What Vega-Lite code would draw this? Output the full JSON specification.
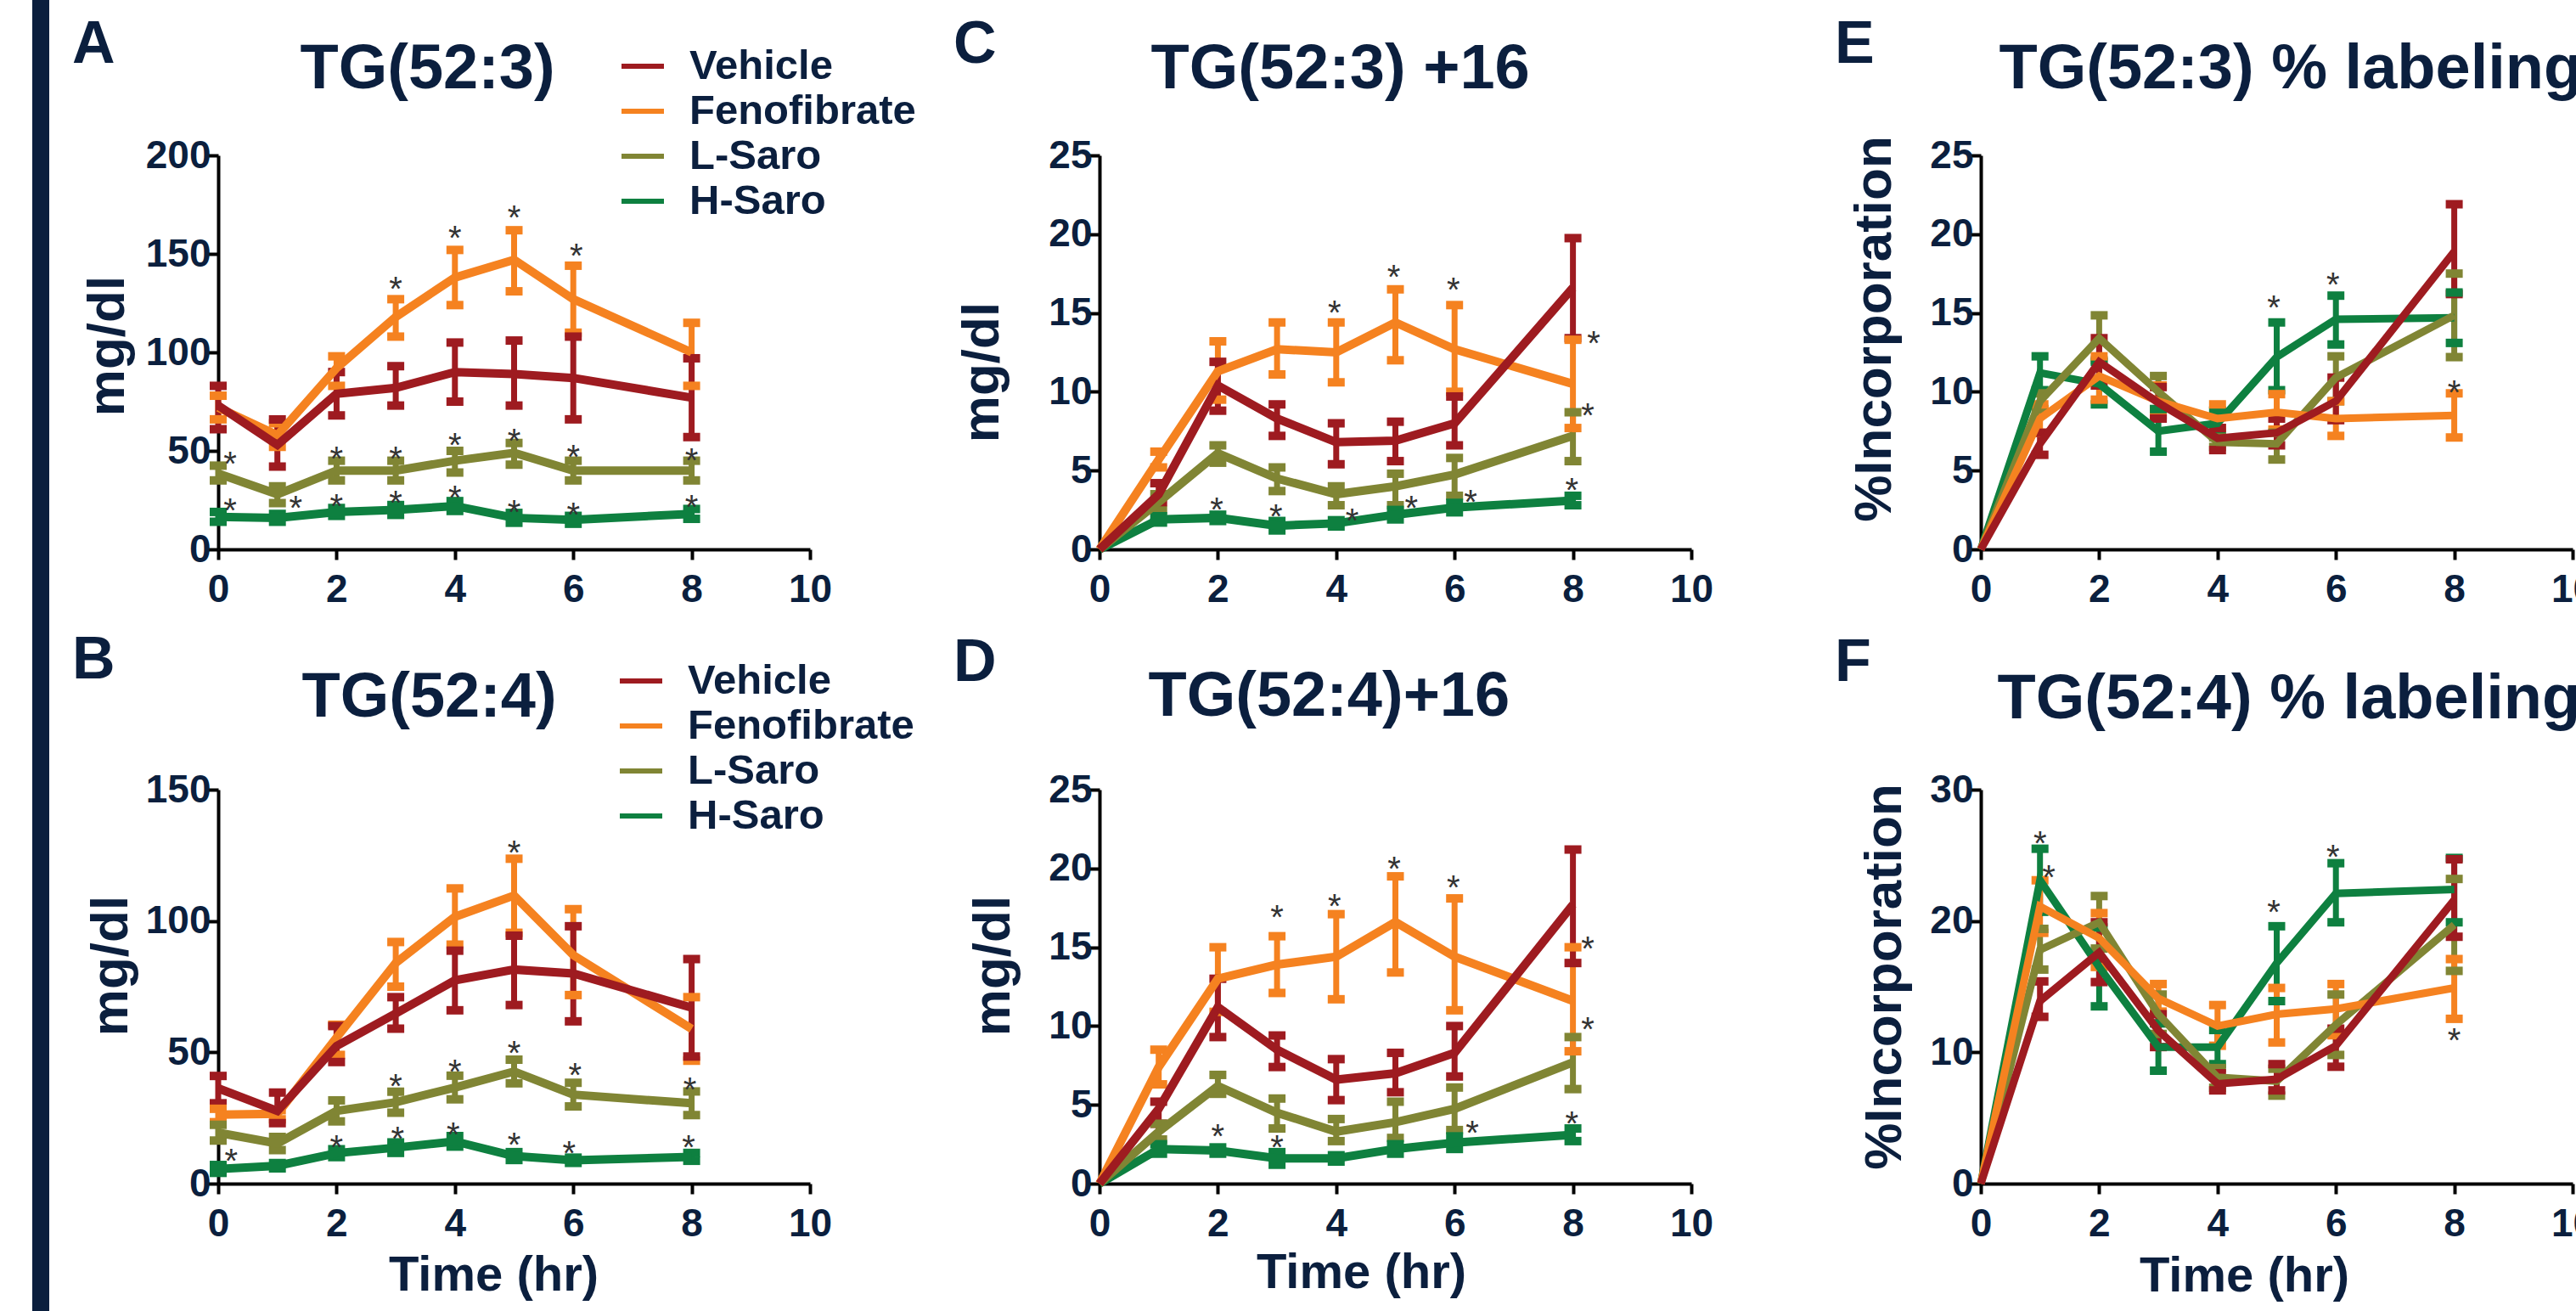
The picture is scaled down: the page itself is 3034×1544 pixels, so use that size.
{
"$schema":"https://vega.github.io/schema/vega-lite/v6.json",
"background":"white",
"padding":{"left":38,"top":0,"right":0,"bottom":0},
"config":{
"view":{"stroke":null},
"font":"Liberation Sans",
"title":{"font":"Liberation Sans","fontWeight":"bold","color":"#0b1f3e","anchor":"start","frame":"group","fontSize":70},
"axis":{"domainColor":"#000000","domainWidth":4,"tickColor":"#000000","tickWidth":4,"tickSize":12,"labelFont":"Liberation Sans","labelFontWeight":"bold","labelFontSize":46,"labelColor":"#0b1f3e","titleFont":"Liberation Sans","titleFontWeight":"bold","titleColor":"#0b1f3e","grid":false,"labelOverlap":false,"labelFlush":false,"titleBaseline":"alphabetic","titleAlign":"center"},
"axisX":{"labelBaseline":"alphabetic","labelPadding":49,"titleFontSize":58},
"axisY":{"labelPadding":-3,"titleFontSize":62},
"tick":{"opacity":1},
"rule":{"opacity":1},
"legend":{"title":null,"symbolType":"stroke","symbolSize":2500,"symbolStrokeWidth":6,"symbolOpacity":1,"labelFont":"Liberation Sans","labelFontSize":49,"labelFontWeight":"bold","labelColor":"#0b1f3e","labelOffset":27,"rowPadding":0,"padding":0,"labelLimit":0}
},
"datasets":{
"main":[
{"p":"A","g":"H-Saro","t":0,"m":16.5,"lo":14,"hi":19},{"p":"A","g":"H-Saro","t":1,"m":16,"lo":14,"hi":18},{"p":"A","g":"H-Saro","t":2,"m":19,"lo":17,"hi":21},{"p":"A","g":"H-Saro","t":3,"m":20,"lo":17.5,"hi":22.5},{"p":"A","g":"H-Saro","t":4,"m":22,"lo":19.5,"hi":24.5},{"p":"A","g":"H-Saro","t":5,"m":16,"lo":13.5,"hi":18.5},{"p":"A","g":"H-Saro","t":6,"m":15,"lo":13,"hi":17},{"p":"A","g":"H-Saro","t":8,"m":18,"lo":15.5,"hi":20.5},
{"p":"A","g":"L-Saro","t":0,"m":38.5,"lo":35,"hi":42.5},{"p":"A","g":"L-Saro","t":1,"m":28,"lo":23.5,"hi":32},{"p":"A","g":"L-Saro","t":2,"m":40,"lo":35,"hi":45},{"p":"A","g":"L-Saro","t":3,"m":40,"lo":35,"hi":45},{"p":"A","g":"L-Saro","t":4,"m":45,"lo":39,"hi":50},{"p":"A","g":"L-Saro","t":5,"m":49,"lo":43,"hi":54},{"p":"A","g":"L-Saro","t":6,"m":40,"lo":35,"hi":45},{"p":"A","g":"L-Saro","t":8,"m":40,"lo":35,"hi":45},
{"p":"A","g":"Fenofibrate","t":0,"m":72,"lo":66,"hi":78},{"p":"A","g":"Fenofibrate","t":1,"m":58,"lo":52,"hi":64},{"p":"A","g":"Fenofibrate","t":2,"m":92,"lo":83,"hi":98},{"p":"A","g":"Fenofibrate","t":3,"m":118,"lo":108,"hi":127},{"p":"A","g":"Fenofibrate","t":4,"m":138,"lo":124,"hi":152},{"p":"A","g":"Fenofibrate","t":5,"m":147,"lo":131,"hi":162},{"p":"A","g":"Fenofibrate","t":6,"m":127,"lo":110,"hi":144},{"p":"A","g":"Fenofibrate","t":8,"m":100,"lo":83,"hi":115},
{"p":"A","g":"Vehicle","t":0,"m":73,"lo":61,"hi":83},{"p":"A","g":"Vehicle","t":1,"m":53,"lo":42,"hi":66},{"p":"A","g":"Vehicle","t":2,"m":79,"lo":68,"hi":90},{"p":"A","g":"Vehicle","t":3,"m":82,"lo":73,"hi":93},{"p":"A","g":"Vehicle","t":4,"m":90,"lo":75,"hi":105},{"p":"A","g":"Vehicle","t":5,"m":89,"lo":73,"hi":106},{"p":"A","g":"Vehicle","t":6,"m":87,"lo":66,"hi":108},{"p":"A","g":"Vehicle","t":8,"m":77,"lo":57,"hi":97},
{"p":"B","g":"H-Saro","t":0,"m":5.6,"lo":4.1,"hi":7.1},{"p":"B","g":"H-Saro","t":1,"m":6.8,"lo":5.8,"hi":7.8},{"p":"B","g":"H-Saro","t":2,"m":11.6,"lo":10.1,"hi":13.1},{"p":"B","g":"H-Saro","t":3,"m":13.7,"lo":11.7,"hi":15.7},{"p":"B","g":"H-Saro","t":4,"m":16.1,"lo":14.1,"hi":18.1},{"p":"B","g":"H-Saro","t":5,"m":10.5,"lo":9,"hi":12},{"p":"B","g":"H-Saro","t":6,"m":8.9,"lo":7.9,"hi":9.9},{"p":"B","g":"H-Saro","t":8,"m":10.2,"lo":8.7,"hi":11.7},
{"p":"B","g":"L-Saro","t":0,"m":19.4,"lo":16.4,"hi":22.4},{"p":"B","g":"L-Saro","t":1,"m":15.3,"lo":12.8,"hi":17.8},{"p":"B","g":"L-Saro","t":2,"m":27.7,"lo":23.7,"hi":31.7},{"p":"B","g":"L-Saro","t":3,"m":31,"lo":27,"hi":35},{"p":"B","g":"L-Saro","t":4,"m":36.6,"lo":32.1,"hi":41.1},{"p":"B","g":"L-Saro","t":5,"m":42.7,"lo":38.2,"hi":47.2},{"p":"B","g":"L-Saro","t":6,"m":33.9,"lo":29.4,"hi":38.4},{"p":"B","g":"L-Saro","t":8,"m":30.6,"lo":26.1,"hi":35.1},
{"p":"B","g":"Fenofibrate","t":0,"m":26.3,"lo":23.4,"hi":28.5},{"p":"B","g":"Fenofibrate","t":1,"m":26.6,"lo":24.5,"hi":28},{"p":"B","g":"Fenofibrate","t":2,"m":55.6,"lo":49,"hi":60.5},{"p":"B","g":"Fenofibrate","t":3,"m":84,"lo":75,"hi":92},{"p":"B","g":"Fenofibrate","t":4,"m":101.6,"lo":91,"hi":112.4},{"p":"B","g":"Fenofibrate","t":5,"m":109.7,"lo":95.5,"hi":123.7},{"p":"B","g":"Fenofibrate","t":6,"m":87,"lo":71.8,"hi":104.5},{"p":"B","g":"Fenofibrate","t":8,"m":58.9,"lo":46.8,"hi":71},
{"p":"B","g":"Vehicle","t":0,"m":36.3,"lo":30.6,"hi":41},{"p":"B","g":"Vehicle","t":1,"m":27.7,"lo":23,"hi":34.7},{"p":"B","g":"Vehicle","t":2,"m":52.4,"lo":46.3,"hi":60},{"p":"B","g":"Vehicle","t":3,"m":64.8,"lo":59,"hi":71},{"p":"B","g":"Vehicle","t":4,"m":77.4,"lo":66,"hi":88.7},{"p":"B","g":"Vehicle","t":5,"m":81.5,"lo":68,"hi":94.4},{"p":"B","g":"Vehicle","t":6,"m":80,"lo":61.8,"hi":98},{"p":"B","g":"Vehicle","t":8,"m":67,"lo":48.4,"hi":85.5},
{"p":"C","g":"H-Saro","t":0,"m":0,"lo":null,"hi":null},{"p":"C","g":"H-Saro","t":1,"m":1.9,"lo":1.7,"hi":2.1},{"p":"C","g":"H-Saro","t":2,"m":2.0,"lo":1.8,"hi":2.2},{"p":"C","g":"H-Saro","t":3,"m":1.5,"lo":1.2,"hi":1.8},{"p":"C","g":"H-Saro","t":4,"m":1.65,"lo":1.45,"hi":1.85},{"p":"C","g":"H-Saro","t":5,"m":2.2,"lo":1.9,"hi":2.5},{"p":"C","g":"H-Saro","t":6,"m":2.65,"lo":2.35,"hi":2.95},{"p":"C","g":"H-Saro","t":8,"m":3.1,"lo":2.8,"hi":3.4},
{"p":"C","g":"L-Saro","t":0,"m":0,"lo":null,"hi":null},{"p":"C","g":"L-Saro","t":1,"m":3.0,"lo":2.5,"hi":3.5},{"p":"C","g":"L-Saro","t":2,"m":6.1,"lo":5.5,"hi":6.6},{"p":"C","g":"L-Saro","t":3,"m":4.5,"lo":3.7,"hi":5.2},{"p":"C","g":"L-Saro","t":4,"m":3.5,"lo":2.8,"hi":4.0},{"p":"C","g":"L-Saro","t":5,"m":4.0,"lo":2.8,"hi":4.8},{"p":"C","g":"L-Saro","t":6,"m":4.75,"lo":3.4,"hi":5.8},{"p":"C","g":"L-Saro","t":8,"m":7.2,"lo":5.6,"hi":8.7},
{"p":"C","g":"Fenofibrate","t":0,"m":0,"lo":null,"hi":null},{"p":"C","g":"Fenofibrate","t":1,"m":5.7,"lo":5.2,"hi":6.2},{"p":"C","g":"Fenofibrate","t":2,"m":11.3,"lo":9.5,"hi":13.2},{"p":"C","g":"Fenofibrate","t":3,"m":12.7,"lo":11.1,"hi":14.4},{"p":"C","g":"Fenofibrate","t":4,"m":12.5,"lo":10.6,"hi":14.4},{"p":"C","g":"Fenofibrate","t":5,"m":14.4,"lo":12.0,"hi":16.5},{"p":"C","g":"Fenofibrate","t":6,"m":12.7,"lo":10.0,"hi":15.5},{"p":"C","g":"Fenofibrate","t":8,"m":10.5,"lo":7.7,"hi":13.3},
{"p":"C","g":"Vehicle","t":0,"m":0,"lo":null,"hi":null},{"p":"C","g":"Vehicle","t":1,"m":3.5,"lo":3.0,"hi":4.2},{"p":"C","g":"Vehicle","t":2,"m":10.4,"lo":8.8,"hi":11.9},{"p":"C","g":"Vehicle","t":3,"m":8.3,"lo":7.2,"hi":9.2},{"p":"C","g":"Vehicle","t":4,"m":6.8,"lo":5.4,"hi":8.0},{"p":"C","g":"Vehicle","t":5,"m":6.9,"lo":5.6,"hi":8.1},{"p":"C","g":"Vehicle","t":6,"m":8.0,"lo":6.6,"hi":9.7},{"p":"C","g":"Vehicle","t":8,"m":16.6,"lo":13.4,"hi":19.75},
{"p":"D","g":"H-Saro","t":0,"m":0,"lo":null,"hi":null},{"p":"D","g":"H-Saro","t":1,"m":2.2,"lo":1.9,"hi":2.5},{"p":"D","g":"H-Saro","t":2,"m":2.1,"lo":1.9,"hi":2.3},{"p":"D","g":"H-Saro","t":3,"m":1.6,"lo":1.2,"hi":2.0},{"p":"D","g":"H-Saro","t":4,"m":1.6,"lo":1.4,"hi":1.8},{"p":"D","g":"H-Saro","t":5,"m":2.2,"lo":1.9,"hi":2.5},{"p":"D","g":"H-Saro","t":6,"m":2.6,"lo":2.2,"hi":3.0},{"p":"D","g":"H-Saro","t":8,"m":3.1,"lo":2.7,"hi":3.5},
{"p":"D","g":"L-Saro","t":0,"m":0,"lo":null,"hi":null},{"p":"D","g":"L-Saro","t":1,"m":3.3,"lo":2.8,"hi":3.8},{"p":"D","g":"L-Saro","t":2,"m":6.2,"lo":5.7,"hi":6.9},{"p":"D","g":"L-Saro","t":3,"m":4.5,"lo":3.5,"hi":5.4},{"p":"D","g":"L-Saro","t":4,"m":3.3,"lo":2.7,"hi":4.1},{"p":"D","g":"L-Saro","t":5,"m":3.9,"lo":2.9,"hi":5.2},{"p":"D","g":"L-Saro","t":6,"m":4.75,"lo":3.4,"hi":6.1},{"p":"D","g":"L-Saro","t":8,"m":7.7,"lo":6.0,"hi":9.3},
{"p":"D","g":"Fenofibrate","t":0,"m":0,"lo":null,"hi":null},{"p":"D","g":"Fenofibrate","t":1,"m":7.4,"lo":6.3,"hi":8.5},{"p":"D","g":"Fenofibrate","t":2,"m":13.0,"lo":10.9,"hi":15.0},{"p":"D","g":"Fenofibrate","t":3,"m":13.9,"lo":12.1,"hi":15.7},{"p":"D","g":"Fenofibrate","t":4,"m":14.4,"lo":11.7,"hi":17.1},{"p":"D","g":"Fenofibrate","t":5,"m":16.6,"lo":13.4,"hi":19.5},{"p":"D","g":"Fenofibrate","t":6,"m":14.4,"lo":11.0,"hi":18.1},{"p":"D","g":"Fenofibrate","t":8,"m":11.6,"lo":8.4,"hi":15.0},
{"p":"D","g":"Vehicle","t":0,"m":0,"lo":null,"hi":null},{"p":"D","g":"Vehicle","t":1,"m":4.75,"lo":3.8,"hi":5.2},{"p":"D","g":"Vehicle","t":2,"m":11.2,"lo":9.3,"hi":13.0},{"p":"D","g":"Vehicle","t":3,"m":8.5,"lo":7.4,"hi":9.4},{"p":"D","g":"Vehicle","t":4,"m":6.6,"lo":5.3,"hi":7.9},{"p":"D","g":"Vehicle","t":5,"m":7.0,"lo":5.8,"hi":8.3},{"p":"D","g":"Vehicle","t":6,"m":8.3,"lo":6.8,"hi":10.0},{"p":"D","g":"Vehicle","t":8,"m":17.7,"lo":14.0,"hi":21.2},
{"p":"E","g":"H-Saro","t":0,"m":0,"lo":null,"hi":null},{"p":"E","g":"H-Saro","t":1,"m":11.2,"lo":10.1,"hi":12.25},{"p":"E","g":"H-Saro","t":2,"m":10.5,"lo":9.2,"hi":11.9},{"p":"E","g":"H-Saro","t":3,"m":7.5,"lo":6.2,"hi":8.9},{"p":"E","g":"H-Saro","t":4,"m":8.0,"lo":7.4,"hi":8.8},{"p":"E","g":"H-Saro","t":5,"m":12.2,"lo":10.1,"hi":14.4},{"p":"E","g":"H-Saro","t":6,"m":14.6,"lo":13.0,"hi":16.1},{"p":"E","g":"H-Saro","t":8,"m":14.7,"lo":13.1,"hi":16.3},
{"p":"E","g":"L-Saro","t":0,"m":0,"lo":null,"hi":null},{"p":"E","g":"L-Saro","t":1,"m":9.4,"lo":8.9,"hi":9.9},{"p":"E","g":"L-Saro","t":2,"m":13.4,"lo":12.0,"hi":14.85},{"p":"E","g":"L-Saro","t":3,"m":10.0,"lo":8.9,"hi":11.0},{"p":"E","g":"L-Saro","t":4,"m":6.8,"lo":6.5,"hi":7.1},{"p":"E","g":"L-Saro","t":5,"m":6.7,"lo":5.7,"hi":7.4},{"p":"E","g":"L-Saro","t":6,"m":10.9,"lo":9.4,"hi":12.25},{"p":"E","g":"L-Saro","t":8,"m":14.85,"lo":12.2,"hi":17.5},
{"p":"E","g":"Fenofibrate","t":0,"m":0,"lo":null,"hi":null},{"p":"E","g":"Fenofibrate","t":1,"m":8.3,"lo":7.4,"hi":9.2},{"p":"E","g":"Fenofibrate","t":2,"m":11.0,"lo":9.5,"hi":12.25},{"p":"E","g":"Fenofibrate","t":3,"m":9.4,"lo":8.5,"hi":10.4},{"p":"E","g":"Fenofibrate","t":4,"m":8.3,"lo":7.7,"hi":9.2},{"p":"E","g":"Fenofibrate","t":5,"m":8.7,"lo":7.6,"hi":9.85},{"p":"E","g":"Fenofibrate","t":6,"m":8.3,"lo":7.2,"hi":9.4},{"p":"E","g":"Fenofibrate","t":8,"m":8.5,"lo":7.1,"hi":9.9},
{"p":"E","g":"Vehicle","t":0,"m":0,"lo":null,"hi":null},{"p":"E","g":"Vehicle","t":1,"m":6.7,"lo":6.0,"hi":7.4},{"p":"E","g":"Vehicle","t":2,"m":11.9,"lo":10.4,"hi":13.4},{"p":"E","g":"Vehicle","t":3,"m":9.3,"lo":8.3,"hi":10.3},{"p":"E","g":"Vehicle","t":4,"m":7.05,"lo":6.3,"hi":7.7},{"p":"E","g":"Vehicle","t":5,"m":7.4,"lo":6.6,"hi":8.3},{"p":"E","g":"Vehicle","t":6,"m":9.4,"lo":8.2,"hi":10.9},{"p":"E","g":"Vehicle","t":8,"m":18.9,"lo":16.2,"hi":21.9},
{"p":"F","g":"H-Saro","t":0,"m":0,"lo":null,"hi":null},{"p":"F","g":"H-Saro","t":1,"m":23.1,"lo":20.7,"hi":25.5},{"p":"F","g":"H-Saro","t":2,"m":16.5,"lo":13.5,"hi":19.5},{"p":"F","g":"H-Saro","t":3,"m":10.4,"lo":8.6,"hi":12.2},{"p":"F","g":"H-Saro","t":4,"m":10.4,"lo":9.1,"hi":11.7},{"p":"F","g":"H-Saro","t":5,"m":16.8,"lo":13.9,"hi":19.6},{"p":"F","g":"H-Saro","t":6,"m":22.1,"lo":19.9,"hi":24.4},{"p":"F","g":"H-Saro","t":8,"m":22.4,"lo":19.9,"hi":24.8},
{"p":"F","g":"L-Saro","t":0,"m":0,"lo":null,"hi":null},{"p":"F","g":"L-Saro","t":1,"m":17.8,"lo":16.3,"hi":19.4},{"p":"F","g":"L-Saro","t":2,"m":19.9,"lo":17.9,"hi":21.9},{"p":"F","g":"L-Saro","t":3,"m":12.9,"lo":11.4,"hi":14.4},{"p":"F","g":"L-Saro","t":4,"m":8.1,"lo":7.3,"hi":8.8},{"p":"F","g":"L-Saro","t":5,"m":7.8,"lo":6.7,"hi":8.75},{"p":"F","g":"L-Saro","t":6,"m":12.1,"lo":9.8,"hi":14.4},{"p":"F","g":"L-Saro","t":8,"m":19.7,"lo":16.2,"hi":23.2},
{"p":"F","g":"Fenofibrate","t":0,"m":0,"lo":null,"hi":null},{"p":"F","g":"Fenofibrate","t":1,"m":21.1,"lo":19.1,"hi":23.1},{"p":"F","g":"Fenofibrate","t":2,"m":18.7,"lo":16.5,"hi":20.6},{"p":"F","g":"Fenofibrate","t":3,"m":14.1,"lo":13.1,"hi":15.2},{"p":"F","g":"Fenofibrate","t":4,"m":12.0,"lo":10.5,"hi":13.6},{"p":"F","g":"Fenofibrate","t":5,"m":12.9,"lo":10.75,"hi":14.9},{"p":"F","g":"Fenofibrate","t":6,"m":13.3,"lo":11.3,"hi":15.2},{"p":"F","g":"Fenofibrate","t":8,"m":14.9,"lo":12.55,"hi":17.1},
{"p":"F","g":"Vehicle","t":0,"m":0,"lo":null,"hi":null},{"p":"F","g":"Vehicle","t":1,"m":13.9,"lo":12.7,"hi":15.4},{"p":"F","g":"Vehicle","t":2,"m":17.6,"lo":15.35,"hi":19.9},{"p":"F","g":"Vehicle","t":3,"m":11.65,"lo":10.4,"hi":12.9},{"p":"F","g":"Vehicle","t":4,"m":7.6,"lo":7.1,"hi":8.4},{"p":"F","g":"Vehicle","t":5,"m":7.95,"lo":7.1,"hi":9.1},{"p":"F","g":"Vehicle","t":6,"m":10.5,"lo":8.9,"hi":11.8},{"p":"F","g":"Vehicle","t":8,"m":21.6,"lo":18.8,"hi":24.7}
],
"stars":[
{"p":"A","t":0.2,"y":47.4},{"p":"A","t":1.31,"y":25},{"p":"A","t":0.2,"y":23.7},{"p":"A","t":2,"y":50},{"p":"A","t":2,"y":25.7},{"p":"A","t":3,"y":49.8},{"p":"A","t":3,"y":27.7},{"p":"A","t":3,"y":136},{"p":"A","t":4,"y":57},{"p":"A","t":4,"y":30},{"p":"A","t":4,"y":162},{"p":"A","t":5,"y":59},{"p":"A","t":5,"y":22.7},{"p":"A","t":5,"y":172.5},{"p":"A","t":6,"y":51},{"p":"A","t":6,"y":21.7},{"p":"A","t":6.05,"y":153},{"p":"A","t":8,"y":49},{"p":"A","t":8,"y":25.3},
{"p":"B","t":5,"y":129},{"p":"B","t":3,"y":40},{"p":"B","t":4,"y":45.5},{"p":"B","t":5,"y":52.7},{"p":"B","t":6.03,"y":44.4},{"p":"B","t":7.97,"y":38.7},{"p":"B","t":0.22,"y":11.6},{"p":"B","t":2,"y":16.9},{"p":"B","t":3.03,"y":20.2},{"p":"B","t":3.97,"y":21.8},{"p":"B","t":5,"y":17.9},{"p":"B","t":5.93,"y":14.5},{"p":"B","t":7.95,"y":16.9},
{"p":"C","t":3.97,"y":15.5},{"p":"C","t":4.97,"y":17.8},{"p":"C","t":5.98,"y":16.95},{"p":"C","t":8.35,"y":13.6},{"p":"C","t":8.25,"y":9.0},{"p":"C","t":1.98,"y":3.0},{"p":"C","t":2.98,"y":2.6},{"p":"C","t":4.27,"y":2.3},{"p":"C","t":5.27,"y":3.1},{"p":"C","t":6.27,"y":3.5},{"p":"C","t":7.98,"y":4.25},
{"p":"D","t":3,"y":17.4},{"p":"D","t":3.97,"y":18.1},{"p":"D","t":4.98,"y":20.5},{"p":"D","t":5.98,"y":19.3},{"p":"D","t":8.25,"y":15.4},{"p":"D","t":8.25,"y":10.3},{"p":"D","t":2,"y":3.5},{"p":"D","t":3,"y":2.8},{"p":"D","t":6.3,"y":3.7},{"p":"D","t":7.98,"y":4.3},
{"p":"E","t":4.95,"y":15.85},{"p":"E","t":5.95,"y":17.3},{"p":"E","t":8.0,"y":10.45},
{"p":"F","t":1.0,"y":26.5},{"p":"F","t":1.15,"y":23.9},{"p":"F","t":4.95,"y":21.3},{"p":"F","t":5.95,"y":25.5},{"p":"F","t":8.0,"y":11.5}
]
},
"bounds":"full",
"spacing":27,
"resolve":{"scale":{"color":"independent","x":"independent","y":"independent"},"legend":{"color":"independent"},"axis":{"x":"independent","y":"independent"}},
"hconcat":[
{"width":20,"height":1361,"data":{"values":[{"k":1}]},"mark":{"type":"rect","color":"#0b1f3e"},"encoding":{"y":{"datum":0,"type":"quantitative","scale":{"domain":[0,1],"range":[1361,-183]},"axis":null},"y2":{"datum":1}}},
{"columns":3,"bounds":"flush","spacing":{"row":283,"column":341},
"resolve":{"scale":{"color":"independent","x":"independent","y":"independent"},"legend":{"color":"independent"},"axis":{"x":"independent","y":"independent"}},
"concat":[
{"width":697,"height":464,
"title":{"text":"A","offset":-45,"dx":-172},
"encoding":{"x":{"field":"t","type":"quantitative","scale":{"domain":[0,10],"nice":false},"axis":{"orient":"bottom","values":[0,2,4,6,8,10],"title":null}}},
"layer":[
{"data":{"name":"main"},"transform":[{"filter":"datum.p==='A'"}],
"encoding":{"color":{"field":"g","type":"nominal","scale":{"domain":["Vehicle","Fenofibrate","L-Saro","H-Saro"],"range":["#9e1b20","#f58220","#808534","#0e8040"]},"legend":{"orient":"none","legendX":472,"legendY":-133}}},
"layer":[
{"mark":{"type":"rule","strokeWidth":7},"encoding":{"y":{"field":"lo","type":"quantitative","title":"mg/dl","scale":{"domain":[0,200],"nice":false},"axis":{"values":[0,50,100,150,200],"titleX":-112,"titleY":224}},"y2":{"field":"hi"}}},
{"mark":{"type":"tick","orient":"horizontal","size":20,"thickness":10},"encoding":{"y":{"field":"lo","type":"quantitative","title":"mg/dl"}}},
{"mark":{"type":"tick","orient":"horizontal","size":20,"thickness":10},"encoding":{"y":{"field":"hi","type":"quantitative","title":"mg/dl"}}},
{"mark":{"type":"line","strokeWidth":10},"encoding":{"y":{"field":"m","type":"quantitative","title":"mg/dl"}}}
]},
{"data":{"name":"stars"},"transform":[{"filter":"datum.p==='A'"}],"mark":{"type":"text","text":"*","fontSize":40,"color":"#333333","baseline":"alphabetic","dy":23},
"encoding":{"x":{"field":"t","type":"quantitative","axis":{"orient":"top","domain":false,"ticks":false,"labels":false,"title":"TG(52:3)","titleFontSize":74,"titleAlign":"left","titleBaseline":"alphabetic","titleX":96,"titleY":-80}},"y":{"field":"y","type":"quantitative","title":"mg/dl"}}}
]},
{"width":697,"height":464,
"title":{"text":"C","offset":-45,"dx":-172},
"encoding":{"x":{"field":"t","type":"quantitative","scale":{"domain":[0,10],"nice":false},"axis":{"orient":"bottom","values":[0,2,4,6,8,10],"title":null}}},
"layer":[
{"data":{"name":"main"},"transform":[{"filter":"datum.p==='C'"}],
"encoding":{"color":{"field":"g","type":"nominal","scale":{"domain":["Vehicle","Fenofibrate","L-Saro","H-Saro"],"range":["#9e1b20","#f58220","#808534","#0e8040"]},"legend":null}},
"layer":[
{"mark":{"type":"rule","strokeWidth":7},"encoding":{"y":{"field":"lo","type":"quantitative","title":"mg/dl","scale":{"domain":[0,25],"nice":false},"axis":{"values":[0,5,10,15,20,25],"titleX":-120,"titleY":255}},"y2":{"field":"hi"}}},
{"mark":{"type":"tick","orient":"horizontal","size":20,"thickness":10},"encoding":{"y":{"field":"lo","type":"quantitative","title":"mg/dl"}}},
{"mark":{"type":"tick","orient":"horizontal","size":20,"thickness":10},"encoding":{"y":{"field":"hi","type":"quantitative","title":"mg/dl"}}},
{"mark":{"type":"line","strokeWidth":10},"encoding":{"y":{"field":"m","type":"quantitative","title":"mg/dl"}}}
]},
{"data":{"name":"stars"},"transform":[{"filter":"datum.p==='C'"}],"mark":{"type":"text","text":"*","fontSize":40,"color":"#333333","baseline":"alphabetic","dy":23},
"encoding":{"x":{"field":"t","type":"quantitative","axis":{"orient":"top","domain":false,"ticks":false,"labels":false,"title":"TG(52:3) +16","titleFontSize":74,"titleAlign":"left","titleBaseline":"alphabetic","titleX":60,"titleY":-80}},"y":{"field":"y","type":"quantitative","title":"mg/dl"}}}
]},
{"width":697,"height":464,
"title":{"text":"E","offset":-45,"dx":-172},
"encoding":{"x":{"field":"t","type":"quantitative","scale":{"domain":[0,10],"nice":false},"axis":{"orient":"bottom","values":[0,2,4,6,8,10],"title":null}}},
"layer":[
{"data":{"name":"main"},"transform":[{"filter":"datum.p==='E'"}],
"encoding":{"color":{"field":"g","type":"nominal","scale":{"domain":["Vehicle","Fenofibrate","L-Saro","H-Saro"],"range":["#9e1b20","#f58220","#808534","#0e8040"]},"legend":null}},
"layer":[
{"mark":{"type":"rule","strokeWidth":7},"encoding":{"y":{"field":"lo","type":"quantitative","title":"%Incorporation","scale":{"domain":[0,25],"nice":false},"axis":{"values":[0,5,10,15,20,25],"titleX":-107,"titleY":204}},"y2":{"field":"hi"}}},
{"mark":{"type":"tick","orient":"horizontal","size":20,"thickness":10},"encoding":{"y":{"field":"lo","type":"quantitative","title":"%Incorporation"}}},
{"mark":{"type":"tick","orient":"horizontal","size":20,"thickness":10},"encoding":{"y":{"field":"hi","type":"quantitative","title":"%Incorporation"}}},
{"mark":{"type":"line","strokeWidth":9},"encoding":{"y":{"field":"m","type":"quantitative","title":"%Incorporation"}}}
]},
{"data":{"name":"stars"},"transform":[{"filter":"datum.p==='E'"}],"mark":{"type":"text","text":"*","fontSize":40,"color":"#333333","baseline":"alphabetic","dy":23},
"encoding":{"x":{"field":"t","type":"quantitative","axis":{"orient":"top","domain":false,"ticks":false,"labels":false,"title":"TG(52:3) % labeling","titleFontSize":74,"titleAlign":"left","titleBaseline":"alphabetic","titleX":21,"titleY":-80}},"y":{"field":"y","type":"quantitative","title":"%Incorporation"}}}
]},
{"width":697,"height":464,
"title":{"text":"B","offset":-39.5,"dx":-172},
"encoding":{"x":{"field":"t","type":"quantitative","scale":{"domain":[0,10],"nice":false},"axis":{"orient":"bottom","values":[0,2,4,6,8,10],"title":"Time (hr)","titleX":324,"titleY":125}}},
"layer":[
{"data":{"name":"main"},"transform":[{"filter":"datum.p==='B'"}],
"encoding":{"color":{"field":"g","type":"nominal","scale":{"domain":["Vehicle","Fenofibrate","L-Saro","H-Saro"],"range":["#9e1b20","#f58220","#808534","#0e8040"]},"legend":{"orient":"none","legendX":470,"legendY":-156}}},
"layer":[
{"mark":{"type":"rule","strokeWidth":7},"encoding":{"y":{"field":"lo","type":"quantitative","title":"mg/dl","scale":{"domain":[0,150],"nice":false},"axis":{"values":[0,50,100,150],"titleX":-108,"titleY":207}},"y2":{"field":"hi"}}},
{"mark":{"type":"tick","orient":"horizontal","size":20,"thickness":10},"encoding":{"y":{"field":"lo","type":"quantitative","title":"mg/dl"}}},
{"mark":{"type":"tick","orient":"horizontal","size":20,"thickness":10},"encoding":{"y":{"field":"hi","type":"quantitative","title":"mg/dl"}}},
{"mark":{"type":"line","strokeWidth":10},"encoding":{"y":{"field":"m","type":"quantitative","title":"mg/dl"}}}
]},
{"data":{"name":"stars"},"transform":[{"filter":"datum.p==='B'"}],"mark":{"type":"text","text":"*","fontSize":40,"color":"#333333","baseline":"alphabetic","dy":23},
"encoding":{"x":{"field":"t","type":"quantitative","axis":{"orient":"top","domain":false,"ticks":false,"labels":false,"title":"TG(52:4)","titleFontSize":74,"titleAlign":"left","titleBaseline":"alphabetic","titleX":98,"titleY":-87}},"y":{"field":"y","type":"quantitative","title":"mg/dl"}}}
]},
{"width":697,"height":464,
"title":{"text":"D","offset":-33,"dx":-172},
"encoding":{"x":{"field":"t","type":"quantitative","scale":{"domain":[0,10],"nice":false},"axis":{"orient":"bottom","values":[0,2,4,6,8,10],"title":"Time (hr)","titleX":308,"titleY":122}}},
"layer":[
{"data":{"name":"main"},"transform":[{"filter":"datum.p==='D'"}],
"encoding":{"color":{"field":"g","type":"nominal","scale":{"domain":["Vehicle","Fenofibrate","L-Saro","H-Saro"],"range":["#9e1b20","#f58220","#808534","#0e8040"]},"legend":null}},
"layer":[
{"mark":{"type":"rule","strokeWidth":7},"encoding":{"y":{"field":"lo","type":"quantitative","title":"mg/dl","scale":{"domain":[0,25],"nice":false},"axis":{"values":[0,5,10,15,20,25],"titleX":-107,"titleY":207}},"y2":{"field":"hi"}}},
{"mark":{"type":"tick","orient":"horizontal","size":20,"thickness":10},"encoding":{"y":{"field":"lo","type":"quantitative","title":"mg/dl"}}},
{"mark":{"type":"tick","orient":"horizontal","size":20,"thickness":10},"encoding":{"y":{"field":"hi","type":"quantitative","title":"mg/dl"}}},
{"mark":{"type":"line","strokeWidth":10},"encoding":{"y":{"field":"m","type":"quantitative","title":"mg/dl"}}}
]},
{"data":{"name":"stars"},"transform":[{"filter":"datum.p==='D'"}],"mark":{"type":"text","text":"*","fontSize":40,"color":"#333333","baseline":"alphabetic","dy":23},
"encoding":{"x":{"field":"t","type":"quantitative","axis":{"orient":"top","domain":false,"ticks":false,"labels":false,"title":"TG(52:4)+16","titleFontSize":74,"titleAlign":"left","titleBaseline":"alphabetic","titleX":57,"titleY":-87.5}},"y":{"field":"y","type":"quantitative","title":"mg/dl"}}}
]},
{"width":697,"height":464,
"title":{"text":"F","offset":-30.7,"dx":-172},
"encoding":{"x":{"field":"t","type":"quantitative","scale":{"domain":[0,10],"nice":false},"axis":{"orient":"bottom","values":[0,2,4,6,8,10],"title":"Time (hr)","titleX":310,"titleY":126}}},
"layer":[
{"data":{"name":"main"},"transform":[{"filter":"datum.p==='F'"}],
"encoding":{"color":{"field":"g","type":"nominal","scale":{"domain":["Vehicle","Fenofibrate","L-Saro","H-Saro"],"range":["#9e1b20","#f58220","#808534","#0e8040"]},"legend":null}},
"layer":[
{"mark":{"type":"rule","strokeWidth":7},"encoding":{"y":{"field":"lo","type":"quantitative","title":"%Incorporation","scale":{"domain":[0,30],"nice":false},"axis":{"values":[0,10,20,30],"titleX":-95,"titleY":220}},"y2":{"field":"hi"}}},
{"mark":{"type":"tick","orient":"horizontal","size":20,"thickness":10},"encoding":{"y":{"field":"lo","type":"quantitative","title":"%Incorporation"}}},
{"mark":{"type":"tick","orient":"horizontal","size":20,"thickness":10},"encoding":{"y":{"field":"hi","type":"quantitative","title":"%Incorporation"}}},
{"mark":{"type":"line","strokeWidth":9},"encoding":{"y":{"field":"m","type":"quantitative","title":"%Incorporation"}}}
]},
{"data":{"name":"stars"},"transform":[{"filter":"datum.p==='F'"}],"mark":{"type":"text","text":"*","fontSize":40,"color":"#333333","baseline":"alphabetic","dy":23},
"encoding":{"x":{"field":"t","type":"quantitative","axis":{"orient":"top","domain":false,"ticks":false,"labels":false,"title":"TG(52:4) % labeling","titleFontSize":74,"titleAlign":"left","titleBaseline":"alphabetic","titleX":19,"titleY":-85}},"y":{"field":"y","type":"quantitative","title":"%Incorporation"}}}
]}
]}
]
}
